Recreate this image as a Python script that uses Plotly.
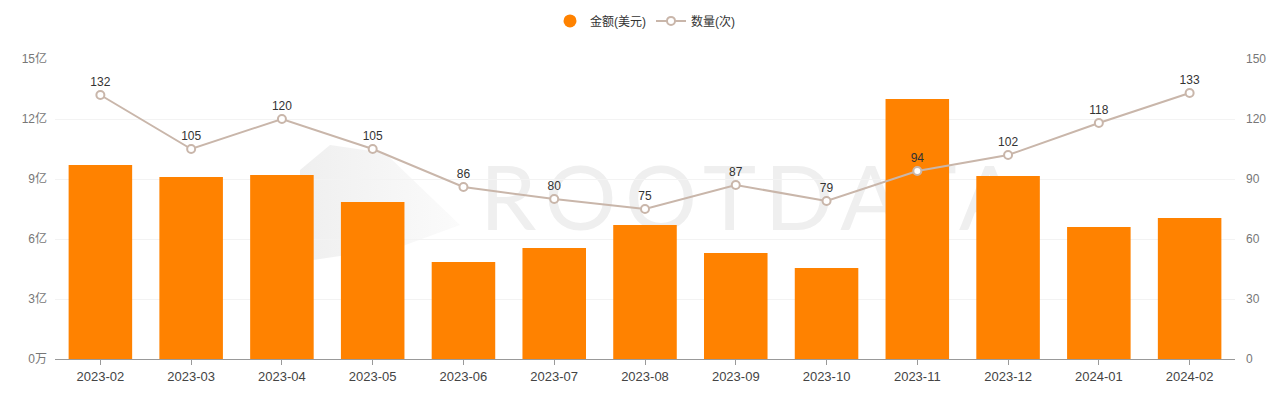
import base64
import plotly.graph_objects as go

months = ["2023-02", "2023-03", "2023-04", "2023-05", "2023-06", "2023-07", "2023-08",
          "2023-09", "2023-10", "2023-11", "2023-12", "2024-01", "2024-02"]
amount_usd = [970e6, 910e6, 920e6, 785e6, 485e6, 555e6, 670e6,
              530e6, 455e6, 1300e6, 915e6, 660e6, 705e6]
counts = [132, 105, 120, 105, 86, 80, 75, 87, 79, 94, 102, 118, 133]

left_tickvals = [0, 3e8, 6e8, 9e8, 12e8, 15e8]
left_ticktext = ["0万", "3亿", "6亿", "9亿", "12亿", "15亿"]
right_tickvals = [0, 30, 60, 90, 120, 150]

ORANGE = "#ff8200"
LINE = "#c9b6aa"
FONT = "Liberation Sans, Noto Sans CJK SC, sans-serif"

fig = go.Figure()
fig.add_trace(go.Bar(x=months, y=amount_usd, marker=dict(color=ORANGE, line=dict(width=0)),
                     name="金额(美元)", showlegend=False, hoverinfo="x+y"))
# legend entry with circle symbol for the bars
fig.add_trace(go.Scatter(x=[months[0]], y=[None], mode="markers", name="金额(美元)",
                         marker=dict(color=ORANGE, size=13, symbol="circle")))
fig.add_trace(go.Scatter(x=months, y=counts, yaxis="y2", mode="lines+markers+text",
                         name="数量(次)", text=[str(c) for c in counts],
                         textposition="top center",
                         textfont=dict(size=12, color="#333333", family=FONT),
                         line=dict(color=LINE, width=2),
                         marker=dict(size=8, color="white", line=dict(color=LINE, width=2))))

svg = (
    '<svg xmlns="http://www.w3.org/2000/svg" width="740" height="130" viewBox="0 0 740 130">'
    '<defs><linearGradient id="g" x1="0" y1="0" x2="1" y2="0">'
    '<stop offset="0" stop-color="#efefef"/><stop offset="1" stop-color="#fbfbfb"/>'
    '</linearGradient></defs>'
    '<polygon points="5,30 35,5 90,13 165,85 105,107 5,122" fill="url(#g)"/>'
    '<text x="185" y="90" font-family="Lato, Inter, sans-serif" font-weight="400" '
    'font-size="90" textLength="540" lengthAdjust="spacing" fill="#efefef">ROOTDATA</text></svg>'
)
uri = "data:image/svg+xml;base64," + base64.b64encode(svg.encode()).decode()
fig.add_layout_image(dict(source=uri, xref="paper", yref="paper", x=0.2034, y=0.73,
                          sizex=0.627, sizey=0.4333, sizing="stretch", xanchor="left",
                          yanchor="top", layer="below"))

fig.update_layout(
    width=1280, height=395,
    margin=dict(l=47, r=53, t=51, b=44, autoexpand=False),
    paper_bgcolor="white", plot_bgcolor="rgba(0,0,0,0)",
    font=dict(family=FONT, size=12, color="#666666"),
    bargap=0.3,
    legend=dict(orientation="h", x=0.5, xanchor="center", y=1.127, yanchor="middle",
                font=dict(size=12, color="#333333"), itemwidth=30),
    xaxis=dict(type="category", range=[-0.5, len(months) - 0.5], autorange=False,
               showgrid=False, showline=True, linecolor="#999999",
               linewidth=1, ticks="outside", ticklen=5, tickcolor="#999999",
               tickfont=dict(size=13, color="#444444"), automargin=False),
    yaxis=dict(range=[0, 15e8], tickvals=left_tickvals, ticktext=left_ticktext,
               showgrid=True, gridcolor="#f3f3f3", zeroline=False, showline=False,
               tickfont=dict(size=12, color="#777777"), ticklabelstandoff=7,
               automargin=False),
    yaxis2=dict(range=[0, 150], tickvals=right_tickvals, overlaying="y", side="right",
                showgrid=False, zeroline=False, showline=False,
                tickfont=dict(size=12, color="#777777"), ticklabelstandoff=10,
                automargin=False),
    showlegend=True,
)

fig.write_html("out.html")
